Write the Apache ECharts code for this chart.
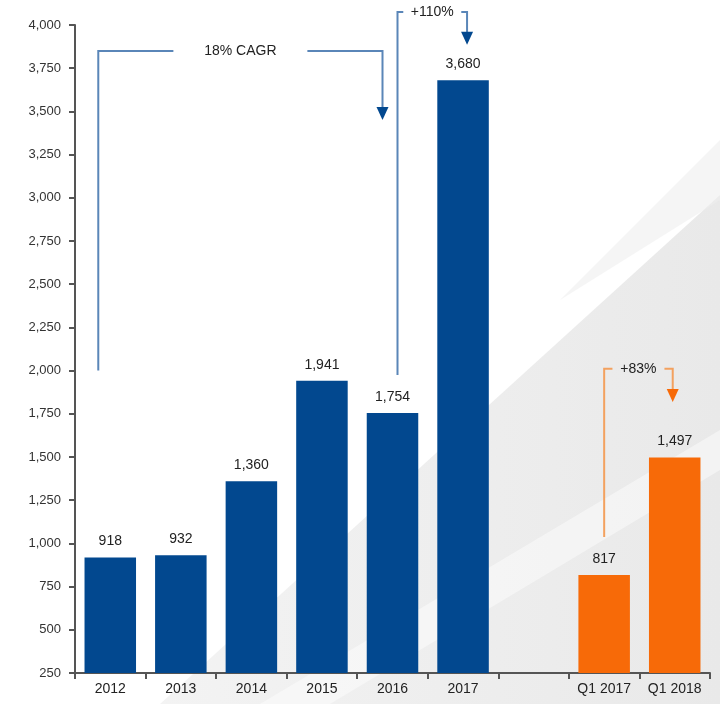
<!DOCTYPE html>
<html><head><meta charset="utf-8">
<script src="https://cdn.jsdelivr.net/npm/echarts@6/dist/echarts.min.js"></script>
<style>html,body{margin:0;padding:0;background:#fff}#c{width:720px;height:704px}</style>
</head><body><div id="c"></div>
<script>
const categories = ['2012','2013','2014','2015','2016','2017','','Q1 2017','Q1 2018'];
const annualValues = [918, 932, 1360, 1941, 1754, 3680, null, null, null];
const quarterValues = [null, null, null, null, null, null, null, 817, 1497];
const yTicks = {min: 250, max: 4000, interval: 250};
const BLUE = '#02488f', ORANGE = '#f76a08';

const chart = echarts.init(document.getElementById('c'), null, {renderer: 'canvas'});
const font = 'Liberation Sans, Arial, sans-serif';
const labelCfg = {show: true, position: 'top', distance: 9, color: '#222', fontSize: 14, fontFamily: font,
  formatter: p => p.value == null ? '' : p.value.toLocaleString('en-US')};

chart.setOption({
  animation: false,
  grid: {left: 75, right: 10, top: 25, bottom: 31, containLabel: false},
  xAxis: {type: 'category', data: categories, boundaryGap: true,
    axisLine: {lineStyle: {color: '#555', width: 2}},
    axisTick: {show: true, length: 6, lineStyle: {color: '#555', width: 2}},
    axisLabel: {color: '#222', fontSize: 14, fontFamily: font, margin: 9}},
  yAxis: {type: 'value', min: yTicks.min, max: yTicks.max, interval: yTicks.interval,
    splitLine: {show: false},
    axisLine: {show: true, lineStyle: {color: '#555', width: 2}},
    axisTick: {show: true, length: 6, lineStyle: {color: '#555', width: 2}},
    axisLabel: {color: '#333', fontSize: 13, fontFamily: font, margin: 14,
      formatter: v => v.toLocaleString('en-US')}},
  series: [
    {type: 'bar', data: annualValues, stack: 'a', barWidth: '73%', itemStyle: {color: BLUE}, label: labelCfg},
    {type: 'bar', data: quarterValues, stack: 'a', barWidth: '73%', itemStyle: {color: ORANGE}, label: labelCfg}
  ]
});

function px(cat, val){ return chart.convertToPixel({xAxisIndex:0, yAxisIndex:0}, [cat, val]); }

function bracket(x1, yb, yt, x2, ytip, text, textX, lineColor, arrowColor, textW, fs){
  const els = [];
  const ls = {stroke: lineColor, lineWidth: 2};
  els.push({type:'polyline', shape:{points:[[x1,yb],[x1,yt],[textX - textW/2 - 6, yt]]}, style:Object.assign({fill:null},ls), z:10});
  els.push({type:'polyline', shape:{points:[[textX + textW/2 + 6, yt],[x2,yt],[x2,ytip-12]]}, style:Object.assign({fill:null},ls), z:10});
  els.push({type:'polygon', shape:{points:[[x2-6,ytip-13],[x2+6,ytip-13],[x2,ytip]]}, style:{fill:arrowColor}, z:10});
  els.push({type:'text', x:textX, y:yt, style:{text:text, fill:'#222', font:fs+'px '+font, align:'center', verticalAlign:'middle'}, z:10});
  return els;
}

function draw(){
  const g = [];
  // subtle background shading
  g.push({type:'polygon', shape:{points:[[160,704],[720,195],[720,704]]},
    style:{fill:{type:'linear',x:0,y:0,x2:1,y2:0,colorStops:[{offset:0,color:'#f3f3f3'},{offset:1,color:'#e9e9e9'}]}}, z:-10, silent:true});
  g.push({type:'polygon', shape:{points:[[260,704],[720,430],[720,470],[330,704]]},
    style:{fill:'rgba(255,255,255,0.45)'}, z:-9, silent:true});
  g.push({type:'polygon', shape:{points:[[560,300],[720,140],[720,200]]},
    style:{fill:'rgba(238,238,238,0.6)'}, z:-9, silent:true});

  // 18% CAGR
  let a = px('2012', 2000), b = px('2012', 3850), c = px('2016', 3450);
  g.push(...bracket(a[0]-12, a[1], b[1], c[0]-10, c[1], '18% CAGR', (a[0]-12 + c[0]-10)/2, '#5a86b8', BLUE, 122, 14));
  // +110%
  a = px('2016', 1975); b = px('2016', 4075); c = px('2017', 3885);
  g.push(...bracket(a[0]+5, a[1], b[1], c[0]+4, c[1], '+110%', (a[0]+5 + c[0]+4)/2, '#5a86b8', BLUE, 46, 14));
  // +83%
  a = px('Q1 2017', 1037); b = px('Q1 2017', 2010); c = px('Q1 2018', 1818);
  g.push(...bracket(a[0], a[1], b[1], c[0]-2, c[1], '+83%', (a[0] + c[0]-2)/2, '#f3a15f', ORANGE, 40, 14));
  chart.setOption({graphic: g});
}
draw();
</script></body></html>
